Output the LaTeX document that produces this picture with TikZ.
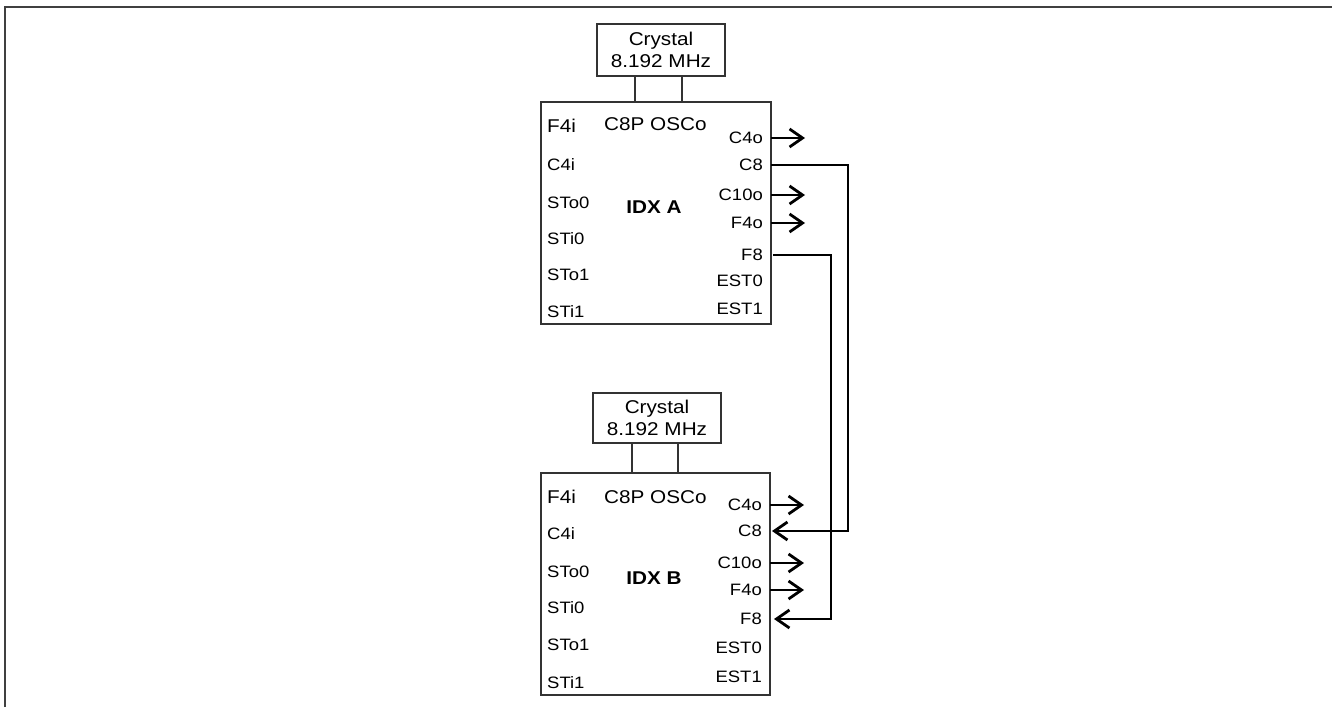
\documentclass[tikz,border=0pt]{standalone}
\usepackage{fontspec}
\setmainfont{Liberation Sans}[FakeStretch=1.12]
\usetikzlibrary{arrows.meta}

\tikzset{
    chip/.style={draw=black!80, line width=1.5pt, inner sep=0},
    xtal/.style={draw=black!80, line width=1.5pt, align=center, inner sep=0, font=\fontsize{18.5}{22}\selectfont},
    pinl/.style={anchor=west, inner sep=0, text height=11.5pt, text depth=0pt, font=\fontsize{16.5}{18}\selectfont},
    pinr/.style={anchor=east, inner sep=0, text height=11.5pt, text depth=0pt, font=\fontsize{16.5}{18}\selectfont},
    bigl/.style={anchor=west, inner sep=0, text height=13pt, text depth=0pt, font=\fontsize{18.5}{20}\selectfont},
    lead/.style={draw=black!80, line width=1.5pt},
    sig/.style={line width=2.8pt, -{Straight Barb[length=13pt,width=18pt,line width=2.8pt]}}
}

\begin{document}
\begin{tikzpicture}[x=1pt, y=-1pt]
    \useasboundingbox (0,0) rectangle (1332,707);
    % frame
    \draw[black!75, line width=2pt] (4.5,707) -- (4.5,6.5) -- (1332,6.5);

    % IDX A
    \node[xtal, minimum width=128pt, minimum height=52pt] (xtalA) at (661,50) {Crystal\\8.192 MHz};
    \node[chip, minimum width=230pt, minimum height=222pt] (chipA) at (656,213) {};
    \draw[lead] (635,76) -- (635,102);
    \draw[lead] (682,76) -- (682,102);
    \node[bigl] (F4iA) at (547,126) {F4i};
    \node[bigl] (oscA) at (604,124) {C8P OSCo};
    \node[pinl] (C4iA) at (547,165) {C4i};
    \node[pinl] (STo0A) at (547,203) {STo0};
    \node[pinl] (STi0A) at (547,239) {STi0};
    \node[pinl] (STo1A) at (547,275) {STo1};
    \node[pinl] (STi1A) at (547,312) {STi1};
    \node[font=\bfseries\fontsize{18.5}{20}\selectfont, inner sep=0] (nameA) at (654,207) {IDX A};
    \node[pinr] (C4oA) at (763,138) {C4o};
    \node[pinr] (C8A) at (763,165) {C8};
    \node[pinr] (C10oA) at (763,195) {C10o};
    \node[pinr] (F4oA) at (763,223) {F4o};
    \node[pinr] (F8A) at (763,255) {F8};
    \node[pinr] (EST0A) at (763,281) {EST0};
    \node[pinr] (EST1A) at (763,309) {EST1};

    % IDX B
    \node[xtal, minimum width=128pt, minimum height=50pt] (xtalB) at (657,418) {Crystal\\8.192 MHz};
    \node[chip, minimum width=229pt, minimum height=222pt] (chipB) at (655.5,584) {};
    \draw[lead] (632,443) -- (632,473);
    \draw[lead] (678,443) -- (678,473);
    \node[bigl] (F4iB) at (547,497) {F4i};
    \node[bigl] (oscB) at (604,497) {C8P OSCo};
    \node[pinl] (C4iB) at (547,534) {C4i};
    \node[pinl] (STo0B) at (547,572) {STo0};
    \node[pinl] (STi0B) at (547,608) {STi0};
    \node[pinl] (STo1B) at (547,645) {STo1};
    \node[pinl] (STi1B) at (547,683) {STi1};
    \node[font=\bfseries\fontsize{18.5}{20}\selectfont, inner sep=0] (nameB) at (654,578) {IDX B};
    \node[pinr] (C4oB) at (762,505) {C4o};
    \node[pinr] (C8B) at (762,531) {C8};
    \node[pinr] (C10oB) at (762,563) {C10o};
    \node[pinr] (F4oB) at (762,590) {F4o};
    \node[pinr] (F8B) at (762,619) {F8};
    \node[pinr] (EST0B) at (762,648) {EST0};
    \node[pinr] (EST1B) at (762,677) {EST1};

    % outputs
    \draw[sig] (C4oA.east) ++(8,0) -- ++(34,0);
    \draw[sig] (C10oA.east) ++(8,0) -- ++(34,0);
    \draw[sig] (F4oA.east) ++(8,0) -- ++(34,0);
    \draw[sig] (C4oB.east) ++(8,0) -- ++(34,0);
    \draw[sig] (C10oB.east) ++(8,0) -- ++(34,0);
    \draw[sig] (F4oB.east) ++(8,0) -- ++(34,0);

    % C8 and F8 from A to B
    \draw[sig] (C8A.east) ++(8,0) -| (848,531) -- ([xshift=10pt]C8B.east);
    \draw[sig] (F8A.east) ++(10,0) -| (831,619) -- ([xshift=12pt]F8B.east);
\end{tikzpicture}
\end{document}
